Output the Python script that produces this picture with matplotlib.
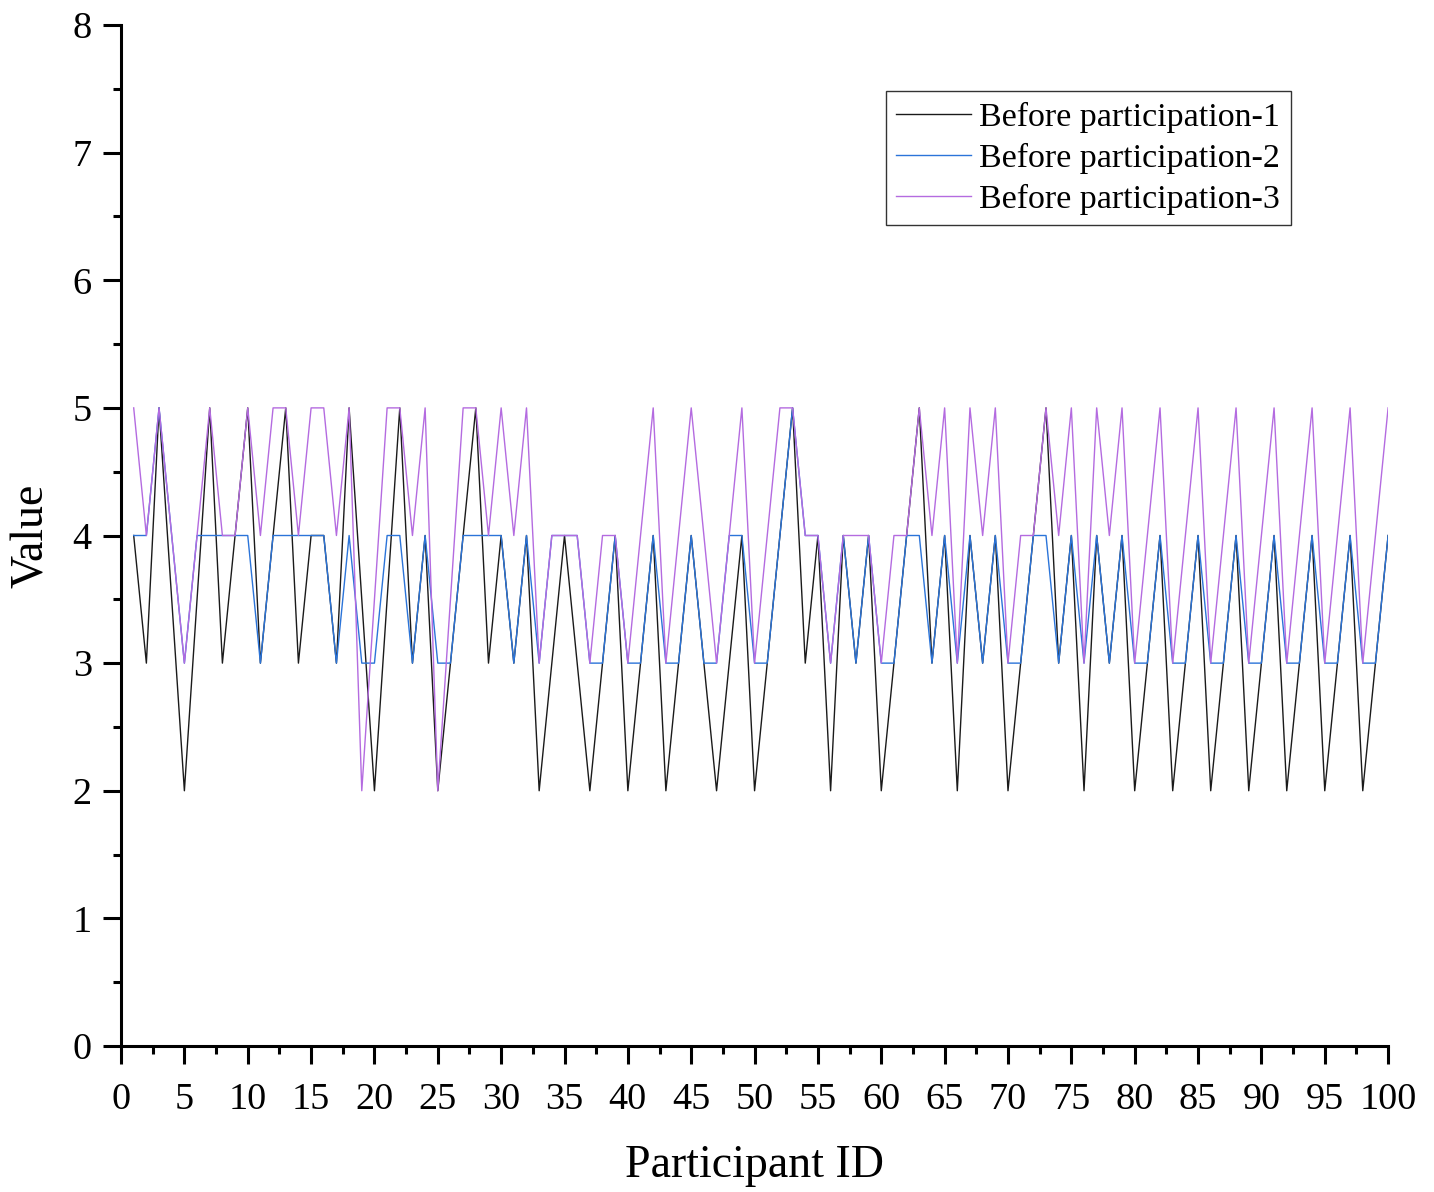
#!/usr/bin/env python3

import numpy as np
import matplotlib.pyplot as plt
from matplotlib.ticker import MultipleLocator

participant_ids = np.arange(1, 101)

before_1 = [4, 3, 5, 3.5, 2, 3.5, 5, 3, 4, 5,
            3, 4, 5, 3, 4, 4, 3, 5, 3.5, 2,
            3.5, 5, 3, 4, 2, 3, 4, 5, 3, 4,
            3, 4, 2, 3, 4, 3, 2, 3, 4, 2,
            3, 4, 2, 3, 4, 3, 2, 3, 4, 2,
            3, 4, 5, 3, 4, 2, 4, 3, 4, 2,
            3, 4, 5, 3, 4, 2, 4, 3, 4, 2,
            3, 4, 5, 3, 4, 2, 4, 3, 4, 2,
            3, 4, 2, 3, 4, 2, 3, 4, 2, 3,
            4, 2, 3, 4, 2, 3, 4, 2, 3, 4]

before_2 = [4, 4, 5, 4, 3, 4, 4, 4, 4, 4,
            3, 4, 4, 4, 4, 4, 3, 4, 3, 3,
            4, 4, 3, 4, 3, 3, 4, 4, 4, 4,
            3, 4, 3, 4, 4, 4, 3, 3, 4, 3,
            3, 4, 3, 3, 4, 3, 3, 4, 4, 3,
            3, 4, 5, 4, 4, 3, 4, 3, 4, 3,
            3, 4, 4, 3, 4, 3, 4, 3, 4, 3,
            3, 4, 4, 3, 4, 3, 4, 3, 4, 3,
            3, 4, 3, 3, 4, 3, 3, 4, 3, 3,
            4, 3, 3, 4, 3, 3, 4, 3, 3, 4]

before_3 = [5, 4, 5, 4, 3, 4, 5, 4, 4, 5,
            4, 5, 5, 4, 5, 5, 4, 5, 2, 3.5,
            5, 5, 4, 5, 2, 3.5, 5, 5, 4, 5,
            4, 5, 3, 4, 4, 4, 3, 4, 4, 3,
            4, 5, 3, 4, 5, 4, 3, 4, 5, 3,
            4, 5, 5, 4, 4, 3, 4, 4, 4, 3,
            4, 4, 5, 4, 5, 3, 5, 4, 5, 3,
            4, 4, 5, 4, 5, 3, 5, 4, 5, 3,
            4, 5, 3, 4, 5, 3, 4, 5, 3, 4,
            5, 3, 4, 5, 3, 4, 5, 3, 4, 5]

labels = ['Before participation-1', 'Before participation-2', 'Before participation-3']
colors = ['#1a1a1a', '#2b74d9', '#b46be0']

plt.rcParams['font.family'] = ['Liberation Serif', 'DejaVu Serif']

fig = plt.figure(figsize=(14.34, 11.92), dpi=100)
ax = fig.add_axes([0.0844, 0.1225, 0.8836, 0.8565])

for series, label, color in zip([before_1, before_2, before_3], labels, colors):
    ax.plot(participant_ids, series, color=color, lw=1.0, label=label)

ax.set_xlim(0, 100)
ax.set_ylim(0, 8)
ax.xaxis.set_major_locator(MultipleLocator(5))
ax.xaxis.set_minor_locator(MultipleLocator(2.5))
ax.yaxis.set_major_locator(MultipleLocator(1))
ax.yaxis.set_minor_locator(MultipleLocator(0.5))

for side in ['top', 'right']:
    ax.spines[side].set_visible(False)
for side in ['left', 'bottom']:
    ax.spines[side].set_linewidth(2.2)

ax.tick_params(which='major', direction='out', length=13, width=2.2,
               labelsize=27.5, pad=8)
ax.tick_params(axis='x', which='major', pad=13)
ax.tick_params(which='minor', direction='out', length=6, width=2.2)

ax.set_xlabel('Participant ID', fontsize=33, labelpad=20)
ax.set_ylabel('Value', fontsize=33, labelpad=14)

leg = ax.legend(loc='upper right', bbox_to_anchor=(0.923, 0.935),
                fontsize=24.5, frameon=True, fancybox=False, handlelength=2.2,
                handletextpad=0.25, borderpad=0.3, labelspacing=0.3,
                borderaxespad=0)
leg.get_frame().set_edgecolor('black')
leg.get_frame().set_linewidth(1.0)

fig.savefig('out.png', dpi=100)
